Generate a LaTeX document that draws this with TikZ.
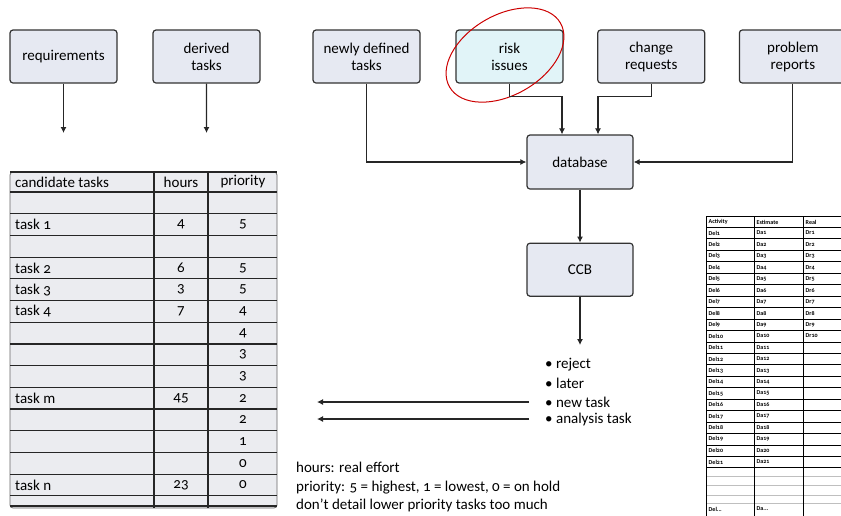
\documentclass[tikz,border=0pt]{standalone}
\usepackage{fontspec}
\setmainfont{Carlito}[Numbers=OldStyle]
\usepackage{xcolor}
\usetikzlibrary{positioning,arrows.meta}
\definecolor{boxfill}{RGB}{230,233,242}
\definecolor{riskfill}{RGB}{225,244,248}
\definecolor{rowfill}{RGB}{235,236,240}
\tikzset{
box/.style={
draw=black!80,
line width=1.2pt,
rounded corners=3pt,
minimum width=107pt,
minimum height=53pt,
align=center,
fill=boxfill,
font=\fontsize{15}{17}\selectfont
},
arrow/.style={
-{Latex[length=6pt,width=6pt]},
line width=1.1pt,
black!85
},
celltext/.style={inner sep=1pt,font=\fontsize{15}{17}\selectfont},
tabline/.style={line width=1.2pt,black!85},
minitext/.style={inner sep=0.5pt,font=\fontsize{6}{7}\selectfont\bfseries},
minirule/.style={line width=1pt,black},
faintrule/.style={line width=0.6pt,black!25}
}

\begin{document}
\begin{tikzpicture}[x=1pt,y=-1pt]
\useasboundingbox (0,0) rectangle (841,515);
\clip (0,0) rectangle (841,515);

% sources
\node[box](req) at (63.5,56.5){requirements};
\node[box,right=34.8pt of req](der){derived\\tasks};
\node[box,right=51.8pt of der](new){newly defined\\tasks};
\node[box,right=34.8pt of new,fill=riskfill](risk){risk\\issues};
\node[box,right=33.5pt of risk](chg){change\\requests};
\node[box,right=33.5pt of chg](prob){problem\\reports};

\draw[red!80!black,line width=1pt,rotate around={30:(505,55)}] (505,55) ellipse (64 and 40);

% flow
\node[box,minimum width=106pt,minimum height=54pt](db) at (580,162){database};
\node[box,minimum width=106pt,below=53pt of db](ccb){CCB};

\coordinate (reqend) at (63.5,133);
\coordinate (derend) at (206.5,133);
\coordinate (ccbend) at (580,345);

\draw[arrow](req)--(reqend);
\draw[arrow](der)--(derend);
\draw[arrow](new.south)|-(db.west);
\draw[arrow](prob.south)|-(db.east);
\draw[arrow](risk.south)--++(0,13)-|([xshift=-18pt]db.north);
\draw[arrow](chg.south)--++(0,13)-|([xshift=18pt]db.north);
\draw[arrow](db)--(ccb);
\draw[arrow](ccb)--(ccbend);

% decisions
\node[celltext,anchor=west](reject) at (544,365){• reject};
\node[celltext,anchor=west](later) at (544,383){• later};
\node[celltext,anchor=west](newtask) at (544,402){• new task};
\node[celltext,anchor=west](analysis) at (544,419){• analysis task};

\coordinate (tonew) at (317,402);
\coordinate (toana) at (317,419);
\draw[arrow,shorten <=15pt](newtask.west)--(tonew);
\draw[arrow,shorten <=15pt](analysis.west)--(toana);

% candidate tasks table
\draw[black!60,line width=0.8pt,rounded corners=3pt,fill=rowfill] (10,172) rectangle (277,508);
\draw[tabline] (10,172)--(277,172);
\foreach \k in {0,...,14}
\draw[tabline] (10,{192+\k*21.7})--(277,{192+\k*21.7});
\draw[tabline] (10,506)--(277,506);
\draw[tabline] (154,172)--(154,508);
\draw[tabline] (208,172)--(208,508);

\node[celltext,anchor=west](hdtask) at (14,182){candidate tasks};
\node[celltext](hdhours) at (181,182){hours};
\node[celltext](hdprio) at (243,182){priority};

\foreach \tk/\hr/\pr [count=\i] in {{}/{}/{},task 1/4/5,{}/{}/{},task 2/6/5,task 3/3/5,task 4/7/4,{}/{}/4,{}/{}/3,{}/{}/3,task m/45/2,{}/{}/2,{}/{}/1,{}/{}/0,task n/23/0}{
\node[celltext,anchor=west](task\i) at (14,{192+(\i-0.5)*21.7}){\tk};
\node[celltext](hours\i) at (181,{192+(\i-0.5)*21.7}){\hr};
\node[celltext](prio\i) at (243,{192+(\i-0.5)*21.7}){\pr};
}

% notes
\node[anchor=north west,align=left,inner sep=0pt,font=\fontsize{15}{18.5}\selectfont](notes) at (296,462){hours: real effort\\priority: 5 = highest, 1 = lowest, 0 = on hold\\don't detail lower priority tasks too much};

% activity sheet
\fill[white] (706,216) rectangle (850,520);
\draw[minirule] (706,216)--(850,216);
\foreach \k in {0,...,21}
\draw[minirule] (706,{227.5+\k*11.45})--(850,{227.5+\k*11.45});
\foreach \yy in {476,485,495,503}
\draw[faintrule] (706,\yy)--(850,\yy);
\foreach \xx in {706,754,803}
\draw[minirule] (\xx,216)--(\xx,520);

\node[minitext,anchor=west](hdact) at (708,222){Activity};
\node[minitext,anchor=west](hdest) at (756,222){Estimate};
\node[minitext,anchor=west](hdreal) at (805,222){Real};
\foreach \i in {1,...,21}{
\node[minitext,anchor=west](act\i) at (708,{233+(\i-1)*11.45}){Del\i};
\node[minitext,anchor=west](est\i) at (756,{233+(\i-1)*11.45}){Da\i};
\ifnum\i<11
\node[minitext,anchor=west](real\i) at (805,{233+(\i-1)*11.45}){Dr\i};
\fi
}
\node[minitext,anchor=west](actlast) at (708,509){Del...};
\node[minitext,anchor=west](estlast) at (756,509){Da...};

\end{tikzpicture}
\end{document}
